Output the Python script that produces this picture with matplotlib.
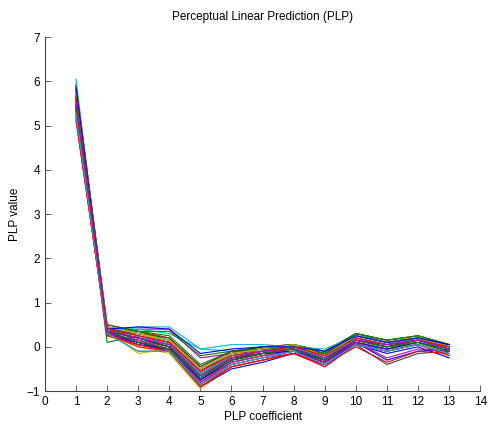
import numpy as np
import matplotlib
matplotlib.use('Agg')
import matplotlib.pyplot as plt

# PLP coefficients 1..13, one row per analysis frame
coef_idx = list(range(1, 14))

frames = [
    [5.90, 0.45, 0.30, 0.10, -0.55, -0.15, -0.05, 0.05, -0.20, 0.25, 0.10, 0.20, 0.00],
    [5.60, 0.40, 0.20, 0.00, -0.65, -0.25, -0.15, -0.05, -0.30, 0.15, 0.00, 0.15, -0.05],
    [5.30, 0.35, 0.10, -0.05, -0.75, -0.35, -0.20, -0.10, -0.35, 0.10, -0.05, 0.10, -0.10],
    [6.05, 0.30, 0.45, 0.45, -0.05, -0.10, -0.10, 0.00, -0.15, 0.30, 0.10, 0.15, 0.05],
    [5.50, 0.30, 0.40, 0.40, -0.25, -0.15, -0.10, -0.05, -0.20, 0.20, 0.05, 0.20, 0.00],
    [5.20, 0.25, 0.00, -0.15, -0.95, -0.45, -0.30, -0.15, -0.40, 0.05, -0.10, 0.05, -0.20],
    [5.40, 0.30, 0.15, -0.10, -0.85, -0.35, -0.20, -0.10, -0.30, 0.05, -0.40, -0.15, -0.10],
    [5.50, 0.35, 0.20, 0.00, -0.70, -0.30, -0.15, -0.10, -0.25, 0.10, -0.30, -0.10, -0.05],
    [5.60, 0.10, 0.25, 0.05, -0.60, -0.20, -0.10, -0.05, -0.25, 0.15, 0.05, 0.15, -0.05],
    [5.80, 0.50, 0.35, 0.20, -0.45, -0.10, 0.00, 0.05, -0.10, 0.30, 0.15, 0.25, 0.05],
    [5.70, 0.40, 0.25, 0.05, -0.60, -0.20, -0.10, 0.00, -0.20, 0.20, 0.05, 0.20, 0.00],
    [5.10, 0.30, -0.10, -0.10, -0.80, -0.40, -0.25, -0.15, -0.35, 0.05, -0.05, 0.05, -0.15],
    [5.45, 0.35, -0.15, -0.05, -0.70, -0.30, -0.20, -0.10, -0.30, 0.10, 0.00, 0.10, -0.10],
    [5.65, 0.40, 0.30, 0.15, -0.50, -0.15, -0.05, 0.00, -0.20, 0.25, 0.10, 0.20, 0.00],
    [5.35, 0.30, 0.10, -0.10, -0.90, -0.50, -0.35, -0.15, -0.40, 0.05, -0.15, 0.00, -0.25],
    [5.75, 0.45, 0.35, 0.25, -0.40, -0.10, 0.00, 0.05, -0.10, 0.30, 0.15, 0.25, 0.05],
    [5.55, 0.35, 0.20, 0.05, -0.60, -0.25, -0.15, -0.05, -0.25, 0.15, 0.00, 0.15, -0.05],
    [5.95, 0.40, 0.40, 0.30, -0.05, 0.05, 0.05, 0.00, -0.05, 0.25, 0.10, 0.20, 0.05],
    [5.25, 0.30, 0.05, -0.10, -0.85, -0.40, -0.25, -0.10, -0.45, 0.05, -0.10, 0.05, -0.15],
    [5.85, 0.45, 0.30, 0.10, -0.50, -0.15, -0.05, 0.05, -0.15, 0.25, 0.10, 0.25, 0.00],
    [5.60, 0.40, 0.15, 0.00, -0.65, -0.25, -0.10, -0.05, -0.30, 0.15, 0.00, 0.10, -0.05],
    [5.40, 0.35, 0.10, -0.05, -0.75, -0.30, -0.15, -0.10, -0.35, 0.10, -0.05, 0.05, -0.10],
    [5.70, 0.25, 0.35, 0.35, -0.20, -0.10, -0.05, -0.05, -0.15, 0.20, 0.05, 0.15, 0.00],
    [5.15, 0.30, 0.00, -0.10, -0.90, -0.45, -0.30, -0.15, -0.40, 0.00, -0.35, -0.10, -0.15],
    [5.50, 0.35, 0.20, 0.05, -0.65, -0.20, -0.10, -0.05, -0.25, 0.20, 0.05, 0.15, -0.05],
    [5.80, 0.45, 0.25, 0.10, -0.55, -0.15, -0.05, 0.05, -0.20, 0.25, 0.10, 0.20, 0.05],
    [5.30, 0.30, 0.15, -0.05, -0.80, -0.35, -0.20, -0.10, -0.30, 0.10, -0.05, 0.05, -0.10],
    [5.65, 0.40, 0.30, 0.20, -0.45, -0.10, -0.05, 0.00, -0.15, 0.25, 0.10, 0.20, 0.00],
    [5.45, 0.35, 0.05, -0.05, -0.75, -0.30, -0.15, -0.10, -0.30, 0.10, -0.05, 0.10, -0.10],
    [5.90, 0.50, 0.35, 0.15, -0.50, -0.15, 0.00, 0.05, -0.15, 0.30, 0.15, 0.25, 0.05],
    [5.20, 0.25, 0.05, -0.10, -0.85, -0.45, -0.30, -0.15, -0.45, 0.05, -0.10, 0.05, -0.20],
    [5.60, 0.40, 0.25, 0.05, -0.60, -0.20, -0.10, 0.00, -0.25, 0.20, 0.05, 0.15, -0.05],
    [5.35, 0.30, 0.15, -0.05, -0.80, -0.35, -0.20, -0.10, -0.35, 0.10, -0.25, -0.05, -0.10],
    [5.75, 0.45, 0.30, 0.15, -0.50, -0.15, -0.05, 0.05, -0.20, 0.25, 0.10, 0.20, 0.00],
    [5.50, 0.35, 0.20, 0.00, -0.70, -0.25, -0.15, -0.05, -0.30, 0.15, 0.00, 0.15, -0.05],
    [5.85, 0.40, 0.45, 0.40, -0.15, -0.05, 0.00, 0.00, -0.10, 0.25, 0.10, 0.20, 0.05],
    [5.40, 0.35, 0.10, -0.05, -0.70, -0.30, -0.15, -0.05, -0.30, 0.15, 0.00, 0.10, -0.10],
    [5.65, 0.40, 0.25, 0.10, -0.55, -0.20, -0.10, 0.00, -0.20, 0.20, 0.05, 0.15, 0.00],
    [5.25, 0.30, -0.10, -0.10, -0.85, -0.40, -0.25, -0.10, -0.40, 0.05, -0.10, 0.05, -0.15],
    [5.55, 0.35, 0.20, 0.05, -0.65, -0.25, -0.10, -0.05, -0.25, 0.15, 0.05, 0.15, -0.05],
]

# old MATLAB colour order
matlab_colors = [(0, 0, 1), (0, 0.5, 0), (1, 0, 0), (0, 0.75, 0.75),
                 (0.75, 0, 0.75), (0.75, 0.75, 0), (0.25, 0.25, 0.25)]

plt.rcParams['font.family'] = ['Liberation Sans', 'DejaVu Sans']

fig = plt.figure(figsize=(4.88, 4.26), dpi=100)
ax = fig.add_axes([0.092, 0.082, 0.892, 0.831])

for i, row in enumerate(frames):
    ax.plot(coef_idx, row, color=matlab_colors[i % len(matlab_colors)], lw=0.8)

ax.set_xlim(0, 14)
ax.set_ylim(-1, 7)
ax.set_xticks(range(0, 15))
ax.set_yticks(range(-1, 8))
ax.tick_params(direction='in', length=4, labelsize=8.5, width=0.6, color='#444444')
ax.spines['top'].set_visible(False)
ax.spines['right'].set_visible(False)
for s in ('left', 'bottom'):
    ax.spines[s].set_color('#444444')
    ax.spines[s].set_linewidth(0.8)

ax.set_title('Perceptual Linear Prediction (PLP)', fontsize=8.5, pad=12)
ax.set_xlabel('PLP coefficient', fontsize=8.5, labelpad=2)
ax.set_ylabel('PLP value', fontsize=8.5, labelpad=4)

fig.savefig('out.png', dpi=100)
